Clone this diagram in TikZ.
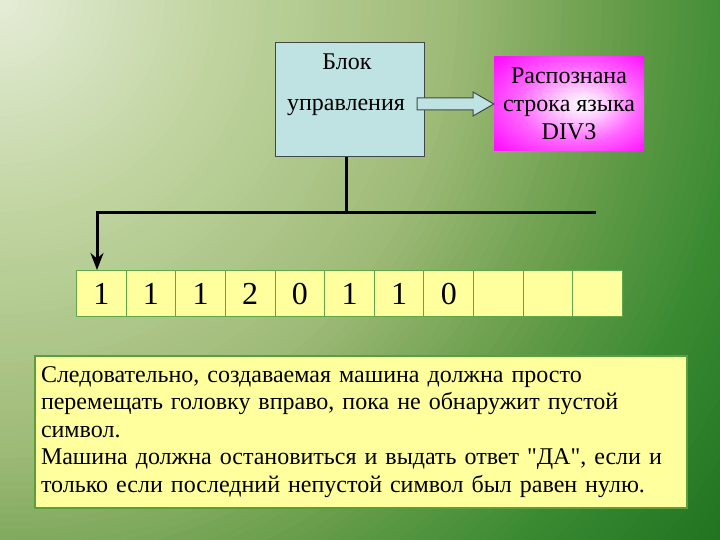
\documentclass[tikz,border=0pt]{standalone}
\usepackage{fontspec}
\setmainfont{Liberation Serif}
\newfontfamily\rawserif{Liberation Serif}
\usetikzlibrary{arrows.meta}
\definecolor{s0}{HTML}{E6EDD8}
\definecolor{s1}{HTML}{C0D4A0}
\definecolor{s2}{HTML}{9FBB78}
\definecolor{s3}{HTML}{6A9E4C}
\definecolor{s4}{HTML}{3A8A32}
\definecolor{s5}{HTML}{207220}
\definecolor{ctrlfill}{HTML}{BFE3E3}
\definecolor{edgegray}{HTML}{404848}
\definecolor{tapefill}{HTML}{FFFF9E}
\definecolor{tapeedge}{HTML}{62A64A}
\definecolor{noteedge}{HTML}{5A9E40}
\pgfdeclareradialshading{pinkglow}{\pgfpoint{5bp}{0bp}}{color(0bp)=(white); color(8bp)=(white!80!magenta); color(20bp)=(white!40!magenta); color(34bp)=(white!8!magenta); color(42bp)=(magenta); color(50bp)=(magenta)}
\begin{document}
\begin{tikzpicture}[x=1pt,y=-1pt,
  font=\fontsize{24}{28}\selectfont,
  busline/.style={line width=3pt, draw=black, line join=miter},
  ctrlbox/.style={draw=edgegray, line width=1pt, fill=ctrlfill, minimum width=149pt, minimum height=114pt, inner sep=0pt},
  pinkbox/.style={shading=pinkglow, minimum width=150pt, minimum height=94pt, inner sep=0pt, align=center, font=\fontsize{24}{28}\selectfont},
  blockarrow/.style={draw=edgegray, line width=1pt, fill=ctrlfill, line join=miter},
  cell/.style={draw=tapeedge, fill=tapefill, line width=1pt, minimum width=49.64pt, minimum height=46pt, inner sep=0pt, text height=22pt, text depth=0pt, anchor=north west, font=\fontsize{32}{34}\selectfont},
  notebox/.style={draw=noteedge, fill=tapefill, line width=2pt, minimum width=652pt, minimum height=152pt, inner xsep=6pt, inner ysep=0pt, text width=640pt, align=left, anchor=north west, font=\fontsize{24}{27.5}\selectfont}
]
\useasboundingbox (0,0) rectangle (720,540);
% background
\begin{scope}
\clip (0,0) rectangle (720,540);
\foreach \ra/\rb/\ca/\cb in {750/910/s4/s5,610/750/s3/s4,450/610/s2/s3,220/450/s1/s2,0/220/s0/s1}{
  \pgfmathtruncatemacro\rstep{\rb-8}
  \foreach \r in {\rb,\rstep,...,\ra}{
    \pgfmathtruncatemacro\pc{100*((\r-\ra)/(\rb-\ra))}
    \fill[\cb!\pc!\ca] (0,0) circle[radius=\r];
  }
}
\end{scope}
% control block
\node[ctrlbox] (ctrl) at (349.5,100) {};
\node[anchor=base] (ctrlA) at (347,70) {Блок};
\node[anchor=base] (ctrlB) at (346,111) {управления};
% result
\node[pinkbox] (result) at (569,104) {Распознана\\строка языка\\DIV3};
% block arrow
\draw[blockarrow] (417,98) -- (473,98) -- (473,92) -- (result.west |- 0,104) -- (473,116) -- (473,110) -- (417,110) -- cycle;
% tape
\foreach \v [count=\i] in {1,1,1,2,0,1,1,0,{},{},{}}
  \node[cell] (c\i) at ({76+(\i-1)*49.64},270) {\v};
% bus
\coordinate (stem) at (346,157);
\coordinate (busL) at (97,213);
\coordinate (busR) at (596,213);
\draw[busline] (stem) -- (stem |- busL);
\draw[busline, -{Stealth[length=17pt,width=13pt]}] (busR) -- (busL) -- (busL |- c1.north);
% note
\node[notebox] (note) at (34,355) {Следовательно, создаваемая машина должна просто\\перемещать головку вправо, пока не обнаружит пустой\\символ.\\Машина должна остановиться и выдать ответ {\rawserif"}ДА{\rawserif"}, если и\\только если последний непустой символ был равен нулю.};
\end{tikzpicture}
\end{document}
